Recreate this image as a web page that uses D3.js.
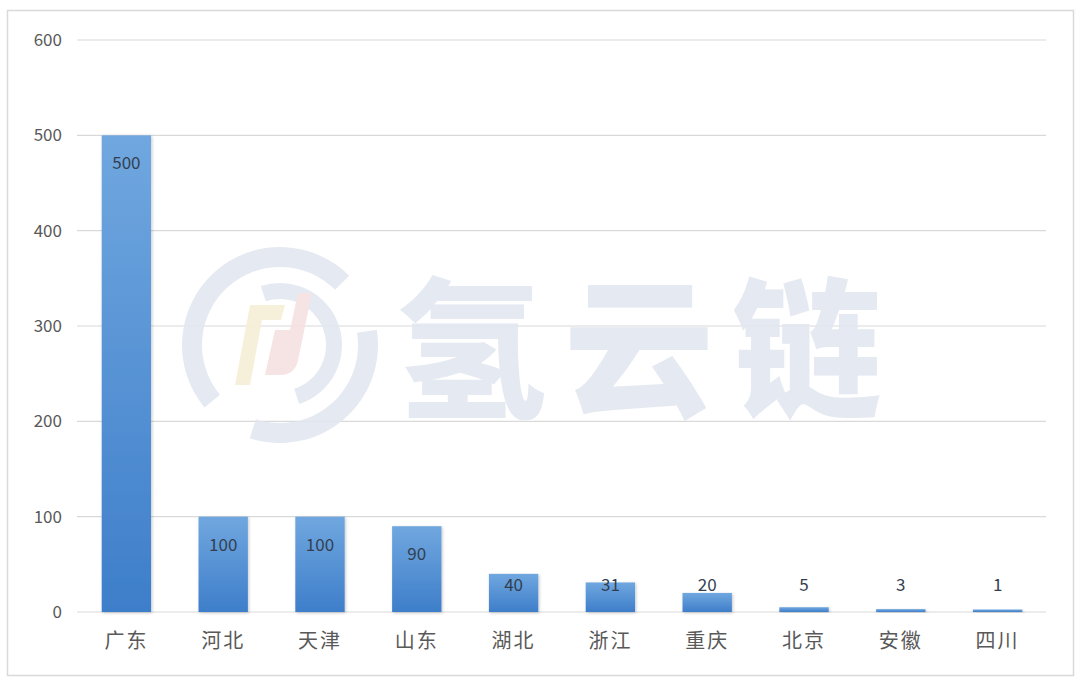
<!DOCTYPE html>
<html><head><meta charset="utf-8">
<script src="https://cdn.jsdelivr.net/npm/d3@7"></script>
<style>html,body{margin:0;padding:0;background:#fff;}svg{display:block;}</style>
</head><body>
<script>
const categories = ["广东","河北","天津","山东","湖北","浙江","重庆","北京","安徽","四川"];
const values = [500,100,100,90,40,31,20,5,3,1];
const yTicks = [0,100,200,300,400,500,600];

const W = 1080, H = 683;
const svg = d3.select("body").append("svg").attr("width", W).attr("height", H);
const font = "'Noto Sans CJK SC','Noto Sans',sans-serif";

svg.append("rect").attr("x",7.5).attr("y",10.5).attr("width",1066).attr("height",665)
  .attr("fill","#fff").attr("stroke","#d9d9d9").attr("stroke-width",1.5);

const defs = svg.append("defs");
const g1 = defs.append("linearGradient").attr("id","barGrad").attr("x1",0).attr("y1",0).attr("x2",0).attr("y2",1);
g1.append("stop").attr("offset","0%").attr("stop-color","#70a7df");
g1.append("stop").attr("offset","100%").attr("stop-color","#3e7eca");
const sh = defs.append("filter").attr("id","shadow").attr("x","-20%").attr("y","-20%").attr("width","140%").attr("height","140%");
sh.append("feDropShadow").attr("dx",1).attr("dy",1).attr("stdDeviation",1.5).attr("flood-color","#000").attr("flood-opacity",0.22);

const x = d3.scaleBand().domain(categories).range([78,1046]).paddingInner(0.49).paddingOuter(0.245);
const y = d3.scaleLinear().domain([0,600]).range([612,40]);

// gridlines
svg.append("g").selectAll("line").data(yTicks).join("line")
  .attr("x1",77).attr("x2",1046).attr("y1",d=>y(d)).attr("y2",d=>y(d))
  .attr("stroke","#d9d9d9").attr("stroke-width",1.2);

// watermark
const wm = svg.append("g").attr("opacity",0.9);
const cx = 280, cy = 345;
const arc = d3.arc();
wm.append("path").attr("transform",`translate(${cx},${cy})`)
  .attr("d", arc({innerRadius:78, outerRadius:98, startAngle:-Math.PI*0.72, endAngle:Math.PI*0.25}))
  .attr("fill","#e3e7f0");
wm.append("path").attr("transform",`translate(${cx},${cy})`)
  .attr("d", arc({innerRadius:78, outerRadius:98, startAngle:Math.PI*0.45, endAngle:Math.PI*1.1}))
  .attr("fill","#e3e7f0");
wm.append("path").attr("transform",`translate(${cx},${cy})`)
  .attr("d", arc({innerRadius:46, outerRadius:62, startAngle:-Math.PI*0.1, endAngle:Math.PI*0.9}))
  .attr("fill","#e3e7f0");
wm.append("path").attr("d","M235,385 L250,305 L285,305 L281,320 L262,320 L250,385 Z").attr("fill","#f6efd6");
wm.append("path").attr("d","M265,375 L275,330 L290,330 L298,293 L312,293 L298,360 Q295,375 280,375 Z").attr("fill","#f6e0e0");
wm.append("text").attr("x",648).attr("y",405).attr("text-anchor","middle")
  .attr("font-family",font).attr("font-weight",900).attr("font-size",150)
  .attr("letter-spacing",18).attr("fill","#e3e7f0").text("氢云链");

// bars
svg.append("g").selectAll("rect").data(values).join("rect")
  .attr("x",(d,i)=>x(categories[i])).attr("width",x.bandwidth())
  .attr("y",d=>Math.min(y(d), y(0)-2.5)).attr("height",d=>Math.max(y(0)-y(d), 2.5))
  .attr("fill","url(#barGrad)").attr("filter","url(#shadow)");

// value labels
svg.append("g").selectAll("text").data(values).join("text")
  .attr("x",(d,i)=>x(categories[i])+x.bandwidth()/2)
  .attr("y",d=>Math.min(y(d)+28, 585)+6)
  .attr("text-anchor","middle").attr("font-family",font).attr("font-size",17)
  .attr("fill","#333f50").text(d=>d);

// y axis labels
svg.append("g").selectAll("text").data(yTicks).join("text")
  .attr("x",62).attr("y",d=>y(d)+6).attr("text-anchor","end")
  .attr("font-family",font).attr("font-size",17).attr("fill","#595959").text(d=>d);

// category labels
svg.append("g").selectAll("text").data(categories).join("text")
  .attr("x",d=>x(d)+x.bandwidth()/2).attr("y",648).attr("text-anchor","middle")
  .attr("font-family",font).attr("font-size",20).attr("letter-spacing",2).attr("fill","#595959").text(d=>d);
</script>
</body></html>
